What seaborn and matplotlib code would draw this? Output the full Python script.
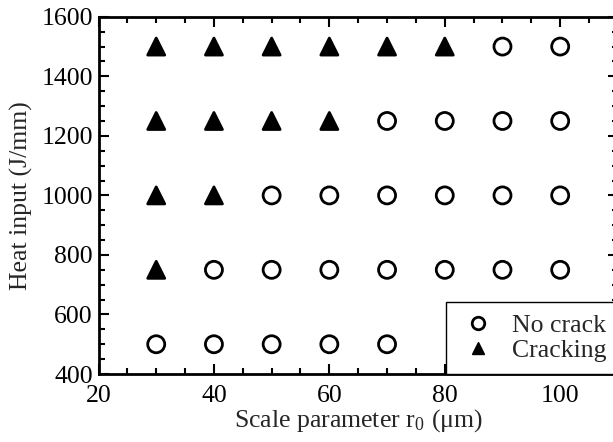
import matplotlib
matplotlib.use("Agg")
import matplotlib.pyplot as plt
from matplotlib.ticker import MultipleLocator
from matplotlib.lines import Line2D
import seaborn as sns
import pandas as pd

# Data
crack_r0 = [30, 40, 50, 60, 70, 80,
            30, 40, 50, 60,
            30, 40,
            30]
crack_heat = [1500, 1500, 1500, 1500, 1500, 1500,
              1250, 1250, 1250, 1250,
              1000, 1000,
              750]
nocrack_r0 = [90, 100,
              70, 80, 90, 100,
              50, 60, 70, 80, 90, 100,
              40, 50, 60, 70, 80, 90, 100,
              30, 40, 50, 60, 70]
nocrack_heat = [1500, 1500,
                1250, 1250, 1250, 1250,
                1000, 1000, 1000, 1000, 1000, 1000,
                750, 750, 750, 750, 750, 750, 750,
                500, 500, 500, 500, 500]
labels = ["No crack", "Cracking"]

df = pd.DataFrame({
    "r0": nocrack_r0 + crack_r0,
    "heat": nocrack_heat + crack_heat,
    "status": [labels[0]] * len(nocrack_r0) + [labels[1]] * len(crack_r0),
})

sns.set_style("ticks")
plt.rcParams['font.family'] = ['Liberation Serif', 'DejaVu Serif']
plt.rcParams['mathtext.fontset'] = 'stix'

FS = 18.5
fig = plt.figure(figsize=(6.13, 4.42), dpi=100)
ax = fig.add_axes([0.1607, 0.1538, 1.008 - 0.1607, 0.962 - 0.1538])

sns.scatterplot(data=df, x="r0", y="heat", hue="status", style="status",
                hue_order=labels, style_order=labels,
                palette={labels[0]: "none", labels[1]: "black"},
                markers={labels[0]: "o", labels[1]: "^"},
                s=150, ax=ax, legend=False, zorder=3)
for c in ax.collections:
    c.set_edgecolor("black")
    c.set_linewidth(2)

ax.set_xlim(20, 110)
ax.set_ylim(400, 1600)
ax.xaxis.set_major_locator(MultipleLocator(20))
ax.xaxis.set_minor_locator(MultipleLocator(5))
ax.yaxis.set_major_locator(MultipleLocator(200))
ax.yaxis.set_minor_locator(MultipleLocator(50))
ax.tick_params(which="both", direction="in", top=True, right=True,
               labelsize=FS, colors="black", width=1.5)
ax.tick_params(which="major", length=7)
ax.tick_params(which="minor", length=4)
ax.tick_params(axis="x", which="major", pad=8)
ax.tick_params(axis="y", which="major", pad=4)
for s in ax.spines.values():
    s.set_linewidth(2)
    s.set_color("black")

ax.set_xlabel(r"Scale parameter r$_{\mathregular{0}}$ ($\mathregular{\mu}$m)", fontsize=FS, labelpad=0)
ax.set_ylabel("Heat input (J/mm)", fontsize=FS, labelpad=6)

handles = [
    Line2D([], [], linestyle="none", marker="o", markerfacecolor="none",
           markeredgecolor="black", markeredgewidth=2, markersize=9),
    Line2D([], [], linestyle="none", marker="^", markerfacecolor="black",
           markeredgecolor="black", markersize=9),
]
leg = ax.legend(handles, labels, loc="lower right", bbox_to_anchor=(1.0, 0.0),
                fontsize=FS, frameon=True, fancybox=False, edgecolor="black",
                framealpha=1, borderpad=0.45, handletextpad=0.5,
                labelspacing=0.1, handlelength=1.6, borderaxespad=0)
leg.get_frame().set_linewidth(1)

fig.savefig("out.png", dpi=100)
